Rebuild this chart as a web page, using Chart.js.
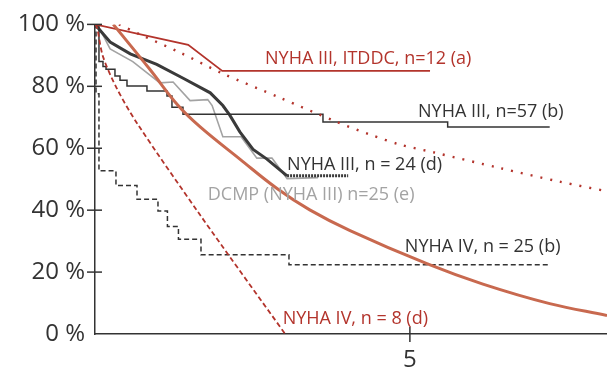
<!DOCTYPE html>
<html>
<head>
<meta charset="utf-8">
<script src="https://cdn.jsdelivr.net/npm/chart.js@4/dist/chart.umd.min.js"></script>
<style>
  html, body { margin: 0; padding: 0; background: #fff; }
  #wrap { width: 607px; height: 367px; }
</style>
</head>
<body>
<div id="wrap"><canvas id="survCanvas"></canvas></div>
<script>
// time in years, survival in %

// orange reference curve
const refT = [0.29, 0.87, 1.32, 1.67, 2.30, 2.89, 3.41, 4.05, 5.27, 6.16, 7.22, 8.13];
const refV = [100, 85.5, 73.8, 66.9, 56.5, 47.0, 40.1, 33.4, 22.7, 16.1, 9.8, 6.0];

// NYHA III, ITDDC, n=12 (a)
const itddcT = [0, 1.48, 2.02, 5.32];
const itddcV = [100, 93.4, 85.0, 85.0];

// red dotted curve
const dotT = [0.38, 0.71, 1.35, 2.02, 2.94, 3.84, 4.37, 4.84, 5.37, 6.43, 7.38, 8.13];
const dotV = [100, 96.8, 90.9, 84.2, 76.3, 68.5, 64.4, 61.2, 58.7, 53.6, 49.2, 46.1];

// NYHA III, n=57 (b) - step
const n57T = [0, 0.063, 0.127, 0.175, 0.317, 0.397, 0.508, 0.825, 1.143, 1.222, 1.397, 3.62, 5.60, 7.22];
const n57V = [100, 88.0, 86.4, 85.5, 83.3, 82.0, 80.1, 78.5, 76.9, 73.2, 71.0, 68.5, 66.9, 66.9];

// NYHA IV, n = 25 (b) - dashed step
const n25T = [0, 0.016, 0.063, 0.333, 0.667, 1.0, 1.15, 1.325, 1.683, 3.08, 7.22];
const n25V = [100, 77.6, 52.7, 48.0, 43.5, 39.7, 34.7, 30.6, 25.6, 22.4, 22.4];

// NYHA IV, n = 8 (d)
const n8T = [0, 0.032, 0.127, 0.35, 0.667, 1.667, 3.02];
const n8V = [100, 99.0, 89.6, 79.2, 68.1, 38.5, 0];

// NYHA III, n = 24 (d)
const n24T = [0, 0.24, 0.56, 0.98, 1.40, 1.83, 2.03, 2.14, 2.30, 2.51, 2.73, 3.05, 4.02];
const n24V = [100, 94.3, 90.5, 87.1, 82.6, 77.9, 73.8, 70.7, 65.3, 59.6, 56.5, 51.1, 51.1];

// DCMP (NYHA III) n=25 (e)
const dcmpT = [0, 0.08, 0.24, 0.60, 1.03, 1.24, 1.51, 1.79, 1.86, 2.03, 2.32, 2.57, 2.81, 3.05, 3.54];
const dcmpV = [100, 98.4, 92.1, 88.0, 81.1, 81.4, 75.4, 75.7, 73.8, 63.7, 63.7, 56.8, 56.8, 50.2, 50.5];

const yTicks = [0, 20, 40, 60, 80, 100];
const xTicks = [5];

const labelText = ['NYHA III, ITDDC, n=12 (a)', 'NYHA III, n=57 (b)', 'NYHA III, n = 24 (d)',
                   'DCMP (NYHA III) n=25 (e)', 'NYHA IV, n = 25 (b)', 'NYHA IV, n = 8 (d)'];
const labelT = [2.70, 5.13, 3.05, 1.79, 4.92, 2.98];
const labelV = [89.0, 71.6, 54.6, 44.8, 28.1, 5.0];
const labelColor = ['#b3342c', '#333333', '#333333', '#a3a3a3', '#333333', '#b3342c'];

const pts = (t, v) => t.map((x, i) => ({ x: x, y: v[i] }));

const crossTicks = {
  id: 'crossTicks',
  afterDraw(chart) {
    const { ctx, scales: { x, y } } = chart;
    ctx.save();
    ctx.strokeStyle = '#333';
    ctx.lineWidth = 1.5;
    yTicks.forEach(v => {
      if (v === 0) return;
      const py = y.getPixelForValue(v);
      ctx.beginPath();
      ctx.moveTo(x.left - 8, py);
      ctx.lineTo(x.left + 7, py);
      ctx.stroke();
    });
    xTicks.forEach(v => {
      const px = x.getPixelForValue(v);
      ctx.beginPath();
      ctx.moveTo(px, y.bottom - 7);
      ctx.lineTo(px, y.bottom + 8);
      ctx.stroke();
    });
    ctx.restore();
  }
};

const curveLabels = {
  id: 'curveLabels',
  afterDatasetsDraw(chart) {
    const { ctx, scales: { x, y } } = chart;
    ctx.save();
    ctx.font = '18px "Open Sans"';
    ctx.textAlign = 'left';
    ctx.textBaseline = 'middle';
    labelText.forEach((txt, i) => {
      ctx.fillStyle = labelColor[i];
      ctx.fillText(txt, x.getPixelForValue(labelT[i]), y.getPixelForValue(labelV[i]));
    });
    ctx.restore();
  }
};

const survCanvas = document.getElementById('survCanvas');

const survChart = new Chart(survCanvas, {
  type: 'line',
  data: {
    datasets: [
      { data: pts(refT, refV), borderColor: '#c8694f', borderWidth: 3, tension: 0.4 },
      { data: pts(itddcT, itddcV), borderColor: '#b3342c', borderWidth: 1.8 },
      { data: pts(dotT, dotV), borderColor: '#b3342c', borderWidth: 2.4, borderDash: [2, 8], tension: 0.3 },
      { data: pts(n8T, n8V), borderColor: '#b3342c', borderWidth: 1.8, borderDash: [5, 3], tension: 0.3 },
      { data: pts(n57T, n57V), borderColor: '#333333', borderWidth: 1.5, stepped: 'before' },
      { data: pts(n25T, n25V), borderColor: '#333333', borderWidth: 1.5, borderDash: [5, 3], stepped: 'before' },
      { data: pts(n24T, n24V), borderColor: '#3a3a3a', borderWidth: 3,
        segment: { borderDash: c => c.p0.parsed.x >= 3.0 ? [2, 1] : undefined } },
      { data: pts(dcmpT, dcmpV), borderColor: '#a3a3a3', borderWidth: 1.6 }
    ]
  },
  options: {
    responsive: true,
    maintainAspectRatio: false,
    animation: false,
    events: [],
    layout: { padding: { top: 17, right: 0, left: 0, bottom: 0 } },
    elements: { point: { radius: 0 }, line: { fill: false } },
    plugins: { legend: { display: false }, tooltip: { enabled: false } },
    scales: {
      x: {
        type: 'linear',
        min: 0,
        max: 8.13,
        afterBuildTicks: s => { s.ticks = xTicks.map(v => ({ value: v })); },
        afterFit: s => { s.height = 33; },
        grid: { display: false, drawTicks: false },
        border: { color: '#333', width: 1.5 },
        ticks: { padding: 12, color: '#333', font: { family: 'Open Sans', size: 24 } }
      },
      y: {
        min: 0,
        max: 100,
        afterBuildTicks: s => { s.ticks = yTicks.map(v => ({ value: v })); },
        afterFit: s => { s.width = 95; },
        grid: { display: false, drawTicks: false },
        border: { color: '#333', width: 1.5 },
        ticks: { padding: 10, color: '#333', font: { family: 'Open Sans', size: 24 },
                 callback: v => v + ' %' }
      }
    }
  },
  plugins: [crossTicks, curveLabels]
});
</script>
</body>
</html>
